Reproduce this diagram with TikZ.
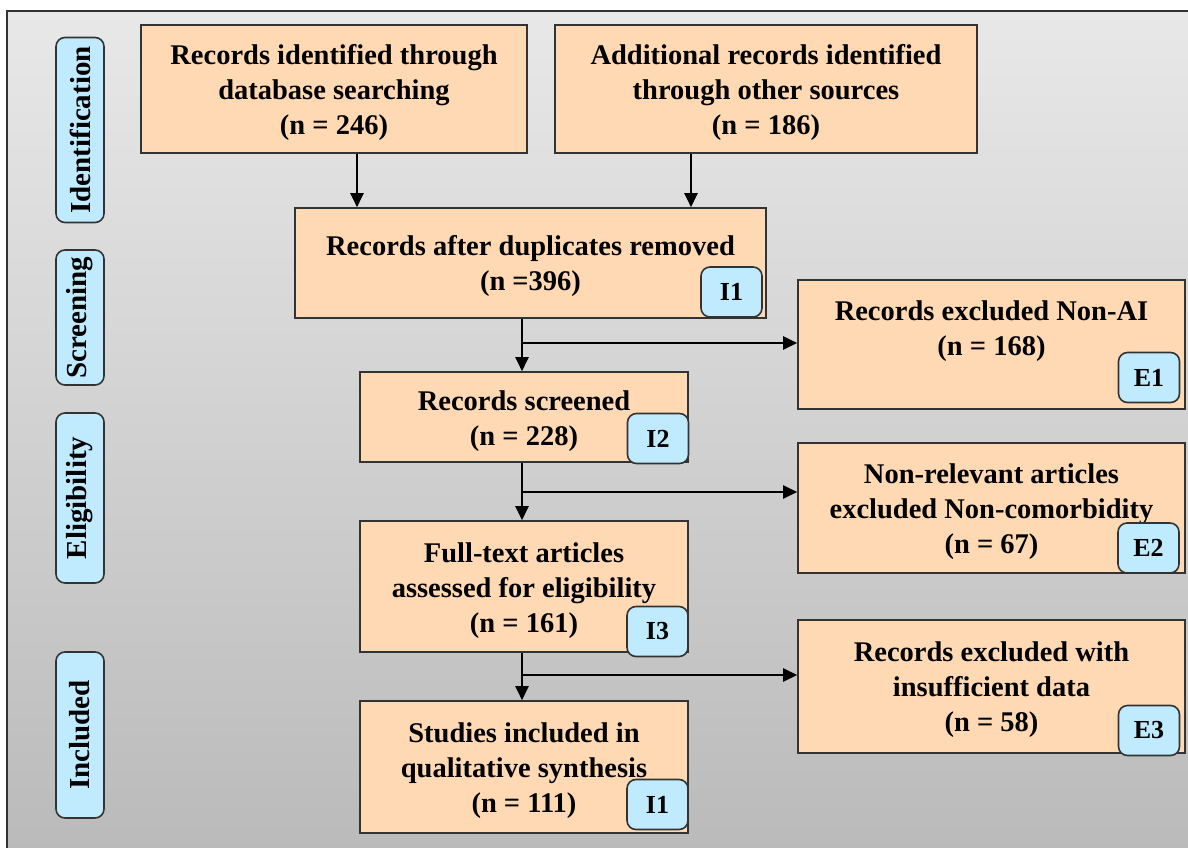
\documentclass[tikz,border=0pt]{standalone}
\usepackage{fontspec}
\setmainfont{Liberation Serif}
\usetikzlibrary{arrows.meta}
\definecolor{peach}{HTML}{FFD9B3}
\definecolor{lblue}{HTML}{C0EBFF}
\definecolor{edge}{HTML}{333333}
\begin{document}
\begin{tikzpicture}[x=1pt,y=-1pt,
  box/.style={draw=edge, line width=1.6pt, fill=peach, rectangle, inner sep=0pt},
  txt/.style={align=center, inner sep=0pt, font=\fontsize{28.5}{35}\selectfont\bfseries},
  tag/.style={draw=edge, line width=1.6pt, fill=lblue, rounded corners=9pt,
    minimum width=61pt, minimum height=50pt, inner sep=0pt,
    font=\fontsize{26}{28}\selectfont\bfseries},
  side/.style={draw=edge, line width=1.6pt, fill=lblue, rounded corners=9pt,
    minimum height=48pt, rotate=90, inner sep=0pt,
    font=\fontsize{29}{31}\selectfont\bfseries},
  arr/.style={line width=2.3pt, -{Triangle[length=14pt,width=13pt]}}
]
\useasboundingbox (0,0) rectangle (1188,848);
\fill[white] (0,0) rectangle (1188,848);
\shade[top color=black!9, bottom color=black!27] (7,11) rectangle (1190,850);
\draw[edge, line width=2pt] (1190,11) -- (7,11) -- (7,850);

% side labels
\node[side, minimum width=185pt] (sid) at (80,130) {Identification};
\node[side, minimum width=135pt] (sscr) at (80,317.5) {Screening};
\node[side, minimum width=170pt] (selig) at (80,498) {Eligibility};
\node[side, minimum width=166pt] (sinc) at (80,735) {Included};

% boxes
\node[box, minimum width=386pt, minimum height=128pt] (a) at (334,89) {};
\node[box, minimum width=422pt, minimum height=128pt] (b) at (766,89) {};
\node[box, minimum width=471pt, minimum height=110pt] (c) at (530.5,263) {};
\node[box, minimum width=387pt, minimum height=129pt] (e1) at (991.5,344.5) {};
\node[box, minimum width=328pt, minimum height=90pt] (d) at (524,417) {};
\node[box, minimum width=387pt, minimum height=130pt] (e2) at (991.5,508) {};
\node[box, minimum width=328pt, minimum height=131pt] (f) at (524,586.5) {};
\node[box, minimum width=387pt, minimum height=133pt] (e3) at (991.5,686.5) {};
\node[box, minimum width=328pt, minimum height=132pt] (g) at (524,767) {};

% texts
\node[txt] (at) at ([yshift=-4pt]a.center) {Records identified through\\database searching\\(n = 246)};
\node[txt] (bt) at ([yshift=-4pt]b.center) {Additional records identified\\through other sources\\(n = 186)};
\node[txt] (ct) at ([yshift=-3pt]c.center) {Records after duplicates removed\\(n =396)};
\node[txt] (e1t) at ([yshift=13pt]e1.center) {Records excluded Non-AI\\(n = 168)};
\node[txt] (dt) at ([yshift=-4pt]d.center) {Records screened\\(n = 228)};
\node[txt] (e2t) at ([yshift=-4pt]e2.center) {Non-relevant articles\\excluded Non-comorbidity\\(n = 67)};
\node[txt] (ft) at ([yshift=-4pt]f.center) {Full-text articles\\assessed for eligibility\\(n = 161)};
\node[txt] (e3t) at ([yshift=-3pt]e3.center) {Records excluded with\\insufficient data\\(n = 58)};
\node[txt] (gt) at ([yshift=-4pt]g.center) {Studies included in\\qualitative synthesis\\(n = 111)};

% tags
\node[tag] (tc) at (731.5,292) {I1};
\node[tag] (te1) at (1149,377.5) {E1};
\node[tag] (td) at (658,438.5) {I2};
\node[tag] (te2) at (1148.5,548) {E2};
\node[tag] (tf) at (657.5,631.5) {I3};
\node[tag] (te3) at (1149,730.5) {E3};
\node[tag] (tg) at (657.5,804.5) {I1};

% arrows
\draw[arr] ([xshift=23pt]a.south) -- ([xshift=23pt]a.south |- c.north);
\draw[arr] ([xshift=-75pt]b.south) -- ([xshift=-75pt]b.south |- c.north);
\draw[arr] ([xshift=-2pt]d.north |- c.south) -- ([xshift=-2pt]d.north);
\draw[arr] ([xshift=-2pt]f.north |- d.south) -- ([xshift=-2pt]f.north);
\draw[arr] ([xshift=-2pt]g.north |- f.south) -- ([xshift=-2pt]g.north);
\coordinate (b1) at (522,343);
\coordinate (b2) at (522,492);
\coordinate (b3) at (522,675);
\draw[arr] (b1) -- (b1 -| e1.west);
\draw[arr] (b2) -- (b2 -| e2.west);
\draw[arr] (b3) -- (b3 -| e3.west);
\end{tikzpicture}
\end{document}
